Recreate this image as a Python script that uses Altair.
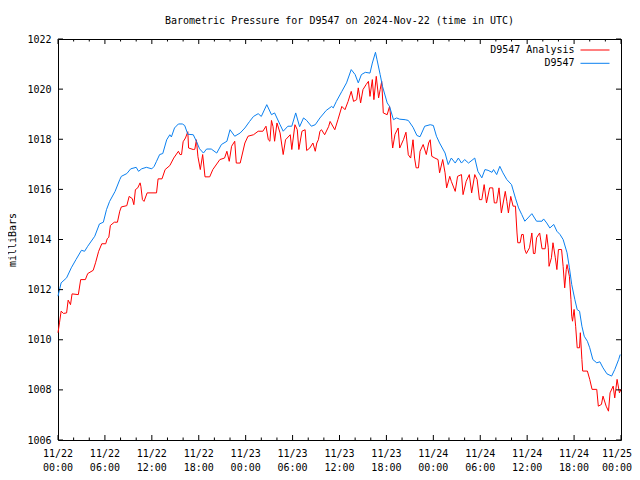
import altair as alt
import pandas as pd

TITLE = "Barometric Pressure for D9547 on 2024-Nov-22 (time in UTC)"
Y_TITLE = "milliBars"
series_names = ["D9547 Analysis", "D9547"]
series_colors = ["#ff0000", "#0a80f0"]

# hours since 2024-11-22 00:00 UTC
blue_hours = [
    0.0, 0.4, 1.1, 1.7, 2.3, 3.0, 3.4, 3.8, 4.7, 5.3,
    5.8, 6.2, 6.6, 7.3, 7.9, 8.1, 8.8, 9.3, 10.0, 10.3,
    10.7, 11.3, 12.0, 12.3, 12.6, 13.0, 13.4, 13.9, 14.3, 14.5,
    14.9, 15.4, 15.9, 16.2, 16.6, 17.3, 17.7, 18.1, 18.6, 19.0,
    19.6, 20.3, 20.9, 21.6, 22.0, 22.6, 23.3, 23.9, 24.5, 25.0,
    25.6, 26.0, 26.7, 27.3, 27.7, 28.4, 28.8, 29.4, 29.9, 30.4,
    30.9, 31.4, 31.8, 32.4, 32.9, 33.5, 34.3, 35.0, 35.2, 35.6,
    36.3, 36.9, 37.5, 38.0, 38.4, 38.8, 39.3, 39.9, 40.2, 40.6,
    40.8, 41.2, 41.5, 42.1, 42.4, 42.9, 43.3, 43.7, 44.4, 44.8,
    45.4, 45.9, 46.3, 46.9, 47.6, 48.0, 48.4, 48.8, 49.5, 49.9,
    50.3, 50.8, 51.2, 51.6, 52.0, 52.5, 53.3, 53.7, 54.2, 54.6,
    55.0, 55.5, 55.7, 56.1, 56.5, 56.9, 57.4, 58.0, 58.5, 58.9,
    59.3, 59.7, 60.1, 60.6, 61.2, 61.9, 62.1, 62.5, 62.9, 63.4,
    63.8, 64.2, 64.6, 65.1, 65.4, 65.7, 66.1, 66.4, 66.7, 67.0,
    67.3, 67.7, 68.0, 68.4, 68.9, 69.3, 69.7, 70.2, 70.8, 71.2,
    71.7, 71.9,
]
blue_values = [
    1011.74, 1012.27, 1012.47, 1012.87, 1013.2, 1013.57, 1013.53, 1013.73, 1014.13, 1014.62,
    1014.69, 1015.19, 1015.52, 1015.92, 1016.39, 1016.52, 1016.63, 1016.82, 1016.88, 1016.72,
    1016.82, 1016.88, 1016.82, 1016.92, 1017.12, 1017.39, 1017.43, 1017.98, 1018.18, 1018.09,
    1018.45, 1018.61, 1018.61, 1018.55, 1018.2, 1018.18, 1017.92, 1017.62, 1017.45, 1017.61,
    1017.61, 1017.45, 1017.79, 1017.92, 1018.38, 1018.12, 1018.25, 1018.45, 1018.71, 1018.91,
    1019.02, 1018.91, 1019.38, 1018.98, 1019.05, 1018.58, 1018.32, 1018.52, 1018.52, 1019.05,
    1018.5, 1018.85, 1018.75, 1018.52, 1018.58, 1018.85, 1019.15, 1019.31, 1019.25, 1019.51,
    1019.91, 1020.25, 1020.78, 1020.58, 1020.25, 1020.58, 1020.67, 1020.64, 1021.04, 1021.47,
    1021.17, 1020.58, 1020.11, 1019.45, 1019.31, 1018.78, 1018.85, 1018.8, 1018.78, 1018.75,
    1018.48, 1018.15, 1018.1, 1018.52, 1018.58, 1018.55, 1018.12, 1017.85, 1017.45, 1016.99,
    1017.25, 1017.05, 1017.25, 1017.05, 1017.19, 1017.05, 1017.25, 1016.72, 1016.46, 1016.79,
    1016.76, 1016.68, 1016.79, 1016.59, 1016.92, 1016.66, 1016.39, 1016.19, 1015.65, 1015.26,
    1015.0, 1014.73, 1014.86, 1015.03, 1014.73, 1014.73, 1014.82, 1014.66, 1014.46, 1014.6,
    1014.33, 1014.2, 1014.0, 1013.47, 1012.87, 1012.2, 1011.6, 1011.2, 1011.14, 1010.54,
    1010.14, 1009.94, 1009.68, 1009.21, 1009.08, 1009.12, 1008.88, 1008.64, 1008.55, 1008.81,
    1009.21, 1009.41,
]

red_hours = [
    0.0, 0.2, 0.4, 0.7, 1.1, 1.3, 1.6, 1.8, 2.6, 2.9,
    3.5, 3.8, 4.5, 4.8, 5.2, 5.6, 6.1, 6.3, 6.5, 6.7,
    7.2, 7.6, 7.9, 8.1, 8.8, 9.1, 9.5, 9.7, 9.9, 10.2,
    10.5, 10.6, 10.8, 11.0, 11.4, 12.6, 12.8, 13.3, 13.7, 14.3,
    14.8, 15.4, 15.6, 15.8, 16.0, 16.3, 16.6, 16.7, 17.3, 17.5,
    17.7, 17.9, 18.2, 18.5, 18.8, 19.4, 19.8, 20.7, 21.3, 21.6,
    21.9, 22.2, 22.6, 22.8, 23.3, 23.9, 24.3, 25.0, 25.6, 26.2,
    26.6, 26.9, 27.1, 27.3, 27.5, 27.7, 28.0, 28.4, 28.8, 29.1,
    29.7, 29.9, 30.3, 30.6, 30.8, 31.2, 31.6, 31.8, 32.2, 32.6,
    32.9, 33.1, 33.3, 33.5, 33.7, 34.1, 34.6, 34.8, 35.4, 35.8,
    36.3, 36.7, 37.1, 37.5, 37.8, 38.2, 38.4, 38.7, 39.0, 39.4,
    39.7, 39.9, 40.2, 40.4, 40.7, 41.0, 41.2, 41.4, 41.6, 42.1,
    42.4, 42.5, 42.7, 42.8, 43.1, 43.5, 43.7, 44.2, 44.5, 44.8,
    45.1, 45.4, 45.6, 45.8, 46.1, 46.3, 46.7, 47.1, 47.4, 47.6,
    47.8, 48.2, 48.6, 48.8, 49.2, 49.5, 49.7, 50.1, 50.3, 50.8,
    51.1, 51.6, 51.8, 52.2, 52.6, 52.9, 53.3, 53.6, 53.9, 54.2,
    54.5, 54.8, 55.2, 55.6, 55.8, 56.1, 56.4, 56.7, 57.2, 57.4,
    57.6, 57.9, 58.2, 58.5, 58.7, 58.8, 59.1, 59.3, 59.5, 59.7,
    59.9, 60.3, 60.6, 60.8, 61.0, 61.2, 61.6, 61.9, 62.3, 62.5,
    62.7, 62.8, 63.1, 63.3, 63.6, 63.8, 64.0, 64.4, 64.6, 64.8,
    65.0, 65.1, 65.4, 65.6, 65.7, 65.8, 66.0, 66.2, 66.4, 66.7,
    66.8, 67.0, 67.1, 67.7, 68.0, 68.3, 68.9, 69.1, 69.5, 69.7,
    70.1, 70.4, 70.6, 71.0, 71.2, 71.5, 71.8, 72.0,
]
red_values = [
    1010.28, 1010.7, 1011.14, 1011.05, 1011.07, 1011.58, 1011.4, 1011.83, 1011.8, 1012.4,
    1012.4, 1012.64, 1012.77, 1013.07, 1013.53, 1013.83, 1013.83, 1014.03, 1014.09, 1014.56,
    1014.69, 1014.69, 1015.13, 1015.3, 1015.35, 1015.72, 1015.63, 1015.39, 1015.99, 1016.06,
    1016.26, 1016.12, 1015.59, 1015.52, 1015.86, 1015.86, 1016.42, 1016.42, 1016.79, 1016.95,
    1017.25, 1017.52, 1017.39, 1017.39, 1017.9, 1018.05, 1018.3, 1017.65, 1017.59, 1017.6,
    1017.98, 1017.3, 1016.79, 1017.39, 1016.5, 1016.5, 1016.79, 1017.19, 1017.25, 1017.52,
    1017.12, 1017.72, 1017.92, 1017.05, 1017.05, 1017.85, 1018.12, 1018.18, 1018.32, 1018.32,
    1018.52, 1017.98, 1017.92, 1018.75, 1018.5, 1017.92, 1018.65, 1018.25, 1017.39, 1017.98,
    1018.18, 1017.59, 1018.58, 1018.38, 1017.59, 1018.32, 1018.38, 1017.55, 1017.65, 1017.85,
    1017.52, 1017.85, 1017.98, 1018.32, 1018.38, 1018.18, 1018.5, 1018.71, 1018.38, 1018.78,
    1019.31, 1019.18, 1019.51, 1019.91, 1019.51, 1019.58, 1020.05, 1019.45, 1019.98, 1020.18,
    1020.31, 1019.71, 1020.38, 1019.58, 1020.51, 1019.65, 1019.98, 1020.31, 1019.05, 1018.98,
    1019.31, 1019.05, 1017.98, 1017.65, 1018.2, 1018.45, 1017.65, 1018.0, 1018.28, 1017.38,
    1017.25, 1017.98, 1017.25, 1016.86, 1016.86, 1017.52, 1017.79, 1017.39, 1017.85, 1017.98,
    1017.32, 1017.25, 1017.19, 1016.66, 1017.19, 1016.66, 1016.06, 1016.52, 1016.32, 1015.92,
    1016.52, 1016.59, 1015.79, 1016.32, 1016.59, 1015.86, 1016.59, 1016.39, 1015.59, 1015.59,
    1016.19, 1015.46, 1016.06, 1016.06, 1015.46, 1015.46, 1016.06, 1015.06, 1015.92, 1015.52,
    1015.06, 1015.72, 1015.33, 1015.33, 1014.26, 1013.87, 1013.87, 1014.2, 1014.2, 1013.6,
    1013.44, 1013.67, 1014.26, 1013.44, 1013.44, 1014.07, 1014.26, 1013.63, 1013.63, 1014.2,
    1013.67, 1012.93, 1013.27, 1013.87, 1013.27, 1012.8, 1013.6, 1013.6, 1012.93, 1012.07,
    1012.8, 1013.0, 1012.53, 1011.6, 1010.94, 1010.74, 1011.21, 1010.54, 1009.68, 1009.68,
    1010.28, 1009.21, 1008.75, 1008.75, 1008.42, 1008.02, 1008.02, 1007.35, 1007.42, 1007.75,
    1007.35, 1007.15, 1007.88, 1008.15, 1007.68, 1008.42, 1007.88, 1008.02,
]

tick_hours = [0, 6, 12, 18, 24, 30, 36, 42, 48, 54, 60, 66, 72]
tick_dates = ["11/22", "11/22", "11/22", "11/22", "11/23", "11/23", "11/23",
              "11/23", "11/24", "11/24", "11/24", "11/24", "11/25"]
tick_times = ["00:00", "06:00", "12:00", "18:00", "00:00", "06:00", "12:00",
              "18:00", "00:00", "06:00", "12:00", "18:00", "00:00"]
minor_hours = [h for h in range(0, 73, 2) if h % 6 != 0]
y_ticks = [1006, 1008, 1010, 1012, 1014, 1016, 1018, 1020, 1022]

W, H = 563, 401
FONT = "DejaVu Sans Mono"
FS = 10

xs = alt.Scale(domain=[0, 72], nice=False, zero=False)
ys = alt.Scale(domain=[1006, 1022], nice=False, zero=False)

red_df = pd.DataFrame({"h": red_hours, "v": red_values})
blue_df = pd.DataFrame({"h": blue_hours, "v": blue_values})

yaxis = alt.Axis(values=y_ticks, format="d", ticks=False, domain=False, grid=False,
                 labelFont=FONT, labelFontSize=FS, labelColor="black",
                 labelPadding=7, title=Y_TITLE, titleFont=FONT,
                 titleFontSize=FS, titleFontWeight="normal",
                 titleColor="black", titlePadding=9)

red_line = alt.Chart(red_df).mark_line(color=series_colors[0], strokeWidth=1).encode(
    x=alt.X("h:Q", scale=xs, axis=None),
    y=alt.Y("v:Q", scale=ys, axis=yaxis),
)
blue_line = alt.Chart(blue_df).mark_line(color=series_colors[1], strokeWidth=1).encode(
    x=alt.X("h:Q", scale=xs, axis=None),
    y=alt.Y("v:Q", scale=ys),
)

xt = pd.DataFrame({"h": tick_hours})
xm = pd.DataFrame({"h": minor_hours})
yt = pd.DataFrame({"v": y_ticks})


def xrule(df, y0, y1):
    return alt.Chart(df).mark_rule(color="black", strokeWidth=1).encode(
        x=alt.X("h:Q", scale=xs), y=alt.value(y0), y2=alt.value(y1))


def yrule(x0, x1):
    return alt.Chart(yt).mark_rule(color="black", strokeWidth=1).encode(
        y=alt.Y("v:Q", scale=ys), x=alt.value(x0), x2=alt.value(x1))


ticks = [
    xrule(xt, H, H - 5), xrule(xt, 0, 5),
    xrule(xm, H, H - 2.5), xrule(xm, 0, 2.5),
    yrule(0, 5), yrule(W, W - 5),
]

lab_df = pd.DataFrame({"h": tick_hours,
                       "label": [d + "\n" + t for d, t in zip(tick_dates, tick_times)]})
lab_style = dict(font=FONT, fontSize=FS, lineBreak="\n", baseline="top",
                 align="center", lineHeight=14, color="black")
xlabels = alt.Chart(lab_df.iloc[:-1]).mark_text(**lab_style).encode(
    x=alt.X("h:Q", scale=xs), y=alt.value(H + 9), text="label:N")
# last label nudged so it stays inside the page
xlabel_last = alt.Chart(lab_df.iloc[-1:]).mark_text(dx=-4, **lab_style).encode(
    x=alt.X("h:Q", scale=xs), y=alt.value(H + 9), text="label:N")

legend_layers = []
for i, (name, col) in enumerate(zip(series_names, series_colors)):
    ldf = pd.DataFrame({"name": [name]})
    ly = 11 + i * 13.3
    legend_layers.append(
        alt.Chart(ldf).mark_text(font=FONT, fontSize=FS, align="right",
                                 baseline="middle", color="black").encode(
            x=alt.value(516.5), y=alt.value(ly), text="name:N"))
    legend_layers.append(
        alt.Chart(ldf).mark_rule(color=col, strokeWidth=1).encode(
            x=alt.value(522.5), x2=alt.value(551.5), y=alt.value(ly)))

chart = alt.layer(red_line, blue_line, *ticks, xlabels, xlabel_last,
                  *legend_layers).properties(
    width=W, height=H,
    title=alt.TitleParams(TITLE, font=FONT, fontSize=FS, fontWeight="normal",
                          color="black", anchor="middle", offset=8),
    autosize=alt.AutoSizeParams(type="none"),
    padding={"left": 50, "top": 31, "right": 11, "bottom": 32},
    background="white",
).configure_view(stroke="black", strokeWidth=1)

chart.save("out.html", embed_options={"renderer": "svg", "actions": False})
